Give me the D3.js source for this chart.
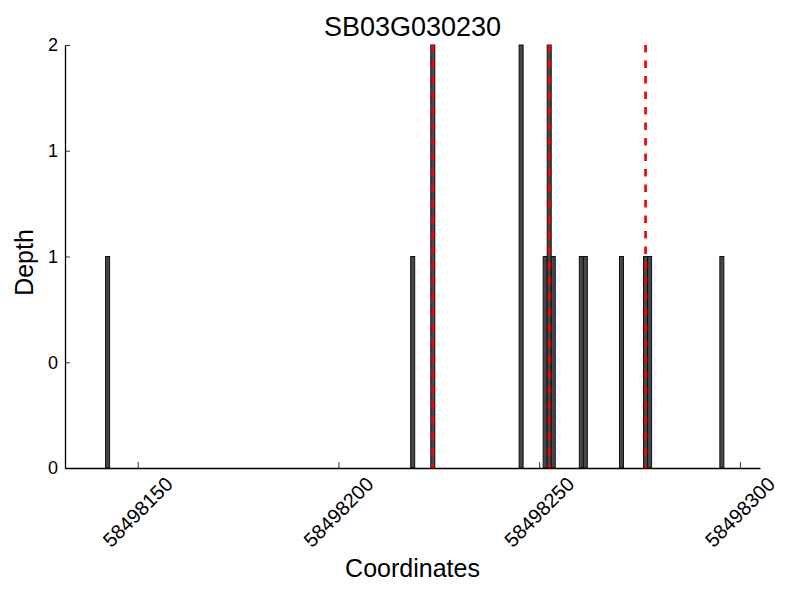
<!DOCTYPE html>
<html>
<head>
<meta charset="utf-8">
<script src="https://cdn.jsdelivr.net/npm/d3@7"></script>
<style>
  body { margin: 0; background: #fff; }
  text { font-family: "Liberation Sans", Arial, sans-serif; fill: #000; }
</style>
</head>
<body>
<div class="depth-chart"></div>
<script>
// read depth per coordinate
var positions = [58498142, 58498218, 58498223, 58498245, 58498251, 58498252, 58498253,
                 58498260, 58498261, 58498270, 58498276, 58498277, 58498295];
var depths = [1, 1, 2, 2, 1, 2, 1, 1, 1, 1, 1, 1, 1];
var markers = [58498223.5, 58498252.5, 58498276.5];
var xTicks = [58498150, 58498200, 58498250, 58498300];
var yTicks = [0, 0.5, 1, 1.5, 2];
var yTickLabels = ["0", "0", "1", "1", "2"];
var title = "SB03G030230";

var margin = {top: 45, right: 40, bottom: 132, left: 65},
  width = 800 - margin.left - margin.right,
  height = 600 - margin.top - margin.bottom;

var svg = d3.select(".depth-chart")
  .append("svg")
    .attr("width", 800)
    .attr("height", 600)
  .append("g")
    .attr("transform", "translate(" + margin.left + "," + margin.top + ")");

var x = d3.scaleLinear()
  .domain([58498131.9, 58498305])
  .range([0, width]);

var y = d3.scaleLinear()
  .domain([0, 2])
  .range([height, 0]);

var bars = positions.map(function(p, i) { return {pos: p, depth: depths[i]}; });

svg.selectAll(".bar")
  .data(bars)
  .enter().append("rect")
    .attr("class", "bar")
    .attr("x", function(d) { return x(d.pos); })
    .attr("width", function(d) { return x(d.pos + 1) - x(d.pos); })
    .attr("y", function(d) { return y(d.depth); })
    .attr("height", function(d) { return height - y(d.depth); })
    .style("fill", "#474747")
    .style("stroke", "#111")
    .style("stroke-width", 1);

svg.selectAll(".marker")
  .data(markers)
  .enter().append("line")
    .attr("class", "marker")
    .attr("x1", function(d) { return x(d); })
    .attr("x2", function(d) { return x(d); })
    .attr("y1", y(2))
    .attr("y2", y(0))
    .style("stroke", "#ff0000")
    .style("stroke-width", 2.7)
    .style("stroke-dasharray", "7.5,8");

// axes, ticks pointing inward
var xAxis = d3.axisBottom(x)
  .tickValues(xTicks)
  .tickSizeInner(-6)
  .tickSizeOuter(0)
  .tickFormat("");

var yAxis = d3.axisLeft(y)
  .tickValues(yTicks)
  .tickSizeInner(-5)
  .tickSizeOuter(0)
  .tickFormat("");

var gx = svg.append("g")
  .attr("transform", "translate(0," + height + ")")
  .call(xAxis);
var gy = svg.append("g").call(yAxis);

[gx, gy].forEach(function(g) {
  g.select(".domain").style("stroke", "#000").style("stroke-width", 1.3);
  g.selectAll(".tick line").style("stroke", "#000").style("stroke-width", 0.8);
});

svg.selectAll(".xlabel")
  .data(xTicks)
  .enter().append("text")
    .attr("class", "xlabel")
    .attr("transform", function(d) { return "translate(" + x(d) + "," + (height + 44) + ") rotate(-45)"; })
    .attr("text-anchor", "middle")
    .attr("dy", "0.35em")
    .style("font-size", "20px")
    .text(function(d) { return d; });

svg.selectAll(".ylabel")
  .data(yTicks)
  .enter().append("text")
    .attr("class", "ylabel")
    .attr("x", -7)
    .attr("y", function(d) { return y(d); })
    .attr("dy", "0.35em")
    .attr("text-anchor", "end")
    .style("font-size", "18px")
    .text(function(d, i) { return yTickLabels[i]; });

svg.append("text")
  .attr("x", width / 2)
  .attr("y", 36 - margin.top)
  .attr("text-anchor", "middle")
  .style("font-size", "27px")
  .text(title);

svg.append("text")
  .attr("x", width / 2)
  .attr("y", 577 - margin.top)
  .attr("text-anchor", "middle")
  .style("font-size", "25px")
  .text("Coordinates");

svg.append("text")
  .attr("transform", "translate(" + (33 - margin.left) + "," + (height / 2 + 6) + ") rotate(-90)")
  .attr("text-anchor", "middle")
  .style("font-size", "25px")
  .text("Depth");
</script>
</body>
</html>
